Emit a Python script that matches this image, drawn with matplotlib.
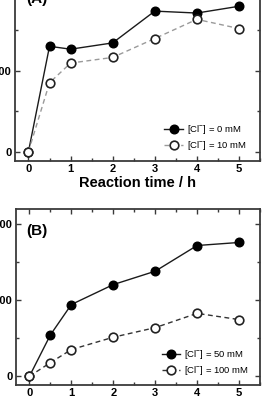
import matplotlib
matplotlib.use("Agg")
import matplotlib.pyplot as plt
from matplotlib.ticker import MultipleLocator

plt.rcParams['font.family'] = ['Liberation Sans', 'DejaVu Sans']
plt.rcParams['mathtext.fontset'] = 'custom'
plt.rcParams['mathtext.rm'] = 'Liberation Sans'
plt.rcParams['mathtext.it'] = 'Liberation Sans:italic'
plt.rcParams['mathtext.bf'] = 'Liberation Sans:bold'

time_h = [0, 0.5, 1, 2, 3, 4, 5]
a_cl0 = [0, 652, 634, 673, 870, 858, 900]
a_cl10 = [0, 426, 548, 583, 700, 819, 762]
b_cl50 = [0, 272, 472, 603, 691, 860, 880]
b_cl100 = [0, 90, 176, 257, 320, 414, 373]

labels_a = ['[Cl$^{-}$] = 0 mM', '[Cl$^{-}$] = 10 mM']
labels_b = ['[Cl$^{-}$] = 50 mM', '[Cl$^{-}$] = 100 mM']
xticks = [0, 1, 2, 3, 4, 5]
yticks = [0, 500, 1000]

W, H = 271, 401
fig = plt.figure(figsize=(W / 100, H / 100), dpi=100)

def ax_rect(x0, x1, ytop, ybot):
    return [x0 / W, (H - ybot) / H, (x1 - x0) / W, (ybot - ytop) / H]

axA = fig.add_axes(ax_rect(15, 260, -26, 160.7))
axB = fig.add_axes(ax_rect(16, 260, 209, 385))

spine_c = '#3a3a3a'

def style(ax):
    ax.set_xlim(-0.32, 5.5)
    ax.set_ylim(-57, 1100)
    ax.set_xticks(xticks)
    ax.set_yticks(yticks)
    ax.xaxis.set_minor_locator(MultipleLocator(0.5))
    ax.yaxis.set_minor_locator(MultipleLocator(250))
    ax.tick_params(which='both', direction='in', top=True, right=True,
                   color=spine_c, width=1.0)
    ax.tick_params(which='major', length=3.5, labelsize=8, pad=2.5)
    ax.tick_params(which='minor', length=2)
    for lab in ax.get_xticklabels() + ax.get_yticklabels():
        lab.set_fontweight('bold')
    for s in ax.spines.values():
        s.set_color(spine_c)
        s.set_linewidth(1.3)

ms = 6.2
axA.plot(time_h, a_cl0, '-', color='#1a1a1a', lw=1.0, marker='o', ms=ms,
         mfc='black', mec='black', label=labels_a[0], zorder=3)
axA.plot(time_h, a_cl10, '--', color='#9a9a9a', lw=1.0, marker='o', ms=ms,
         mfc='white', mec='#222222', mew=1.2, label=labels_a[1], zorder=3,
         dashes=(3.5, 2.5))
axB.plot(time_h, b_cl50, '-', color='#1a1a1a', lw=1.0, marker='o', ms=ms,
         mfc='black', mec='black', label=labels_b[0], zorder=3)
axB.plot(time_h, b_cl100, '--', color='#333333', lw=1.0, marker='o', ms=ms,
         mfc='white', mec='#222222', mew=1.2, label=labels_b[1], zorder=3,
         dashes=(3.5, 2.5))

for ax in (axA, axB):
    style(ax)

axA.set_xlabel('Reaction time / h', fontsize=10.5, fontweight='bold', labelpad=1)

axA.text(0.045, 0.866, '(A)', transform=axA.transAxes, fontsize=11,
         fontweight='bold', va='center', ha='left')
axB.text(0.041, 0.875, '(B)', transform=axB.transAxes, fontsize=11,
         fontweight='bold', va='center', ha='left')

leg_kw = dict(frameon=False, fontsize=6.8, handlelength=2.0, handletextpad=0.4,
              labelspacing=0.3, borderpad=0, borderaxespad=0, loc='lower right')
axA.legend(bbox_to_anchor=(0.945, 0.045), **leg_kw)
axB.legend(bbox_to_anchor=(0.955, 0.045), **leg_kw)

fig.savefig('out.png', dpi=100)
